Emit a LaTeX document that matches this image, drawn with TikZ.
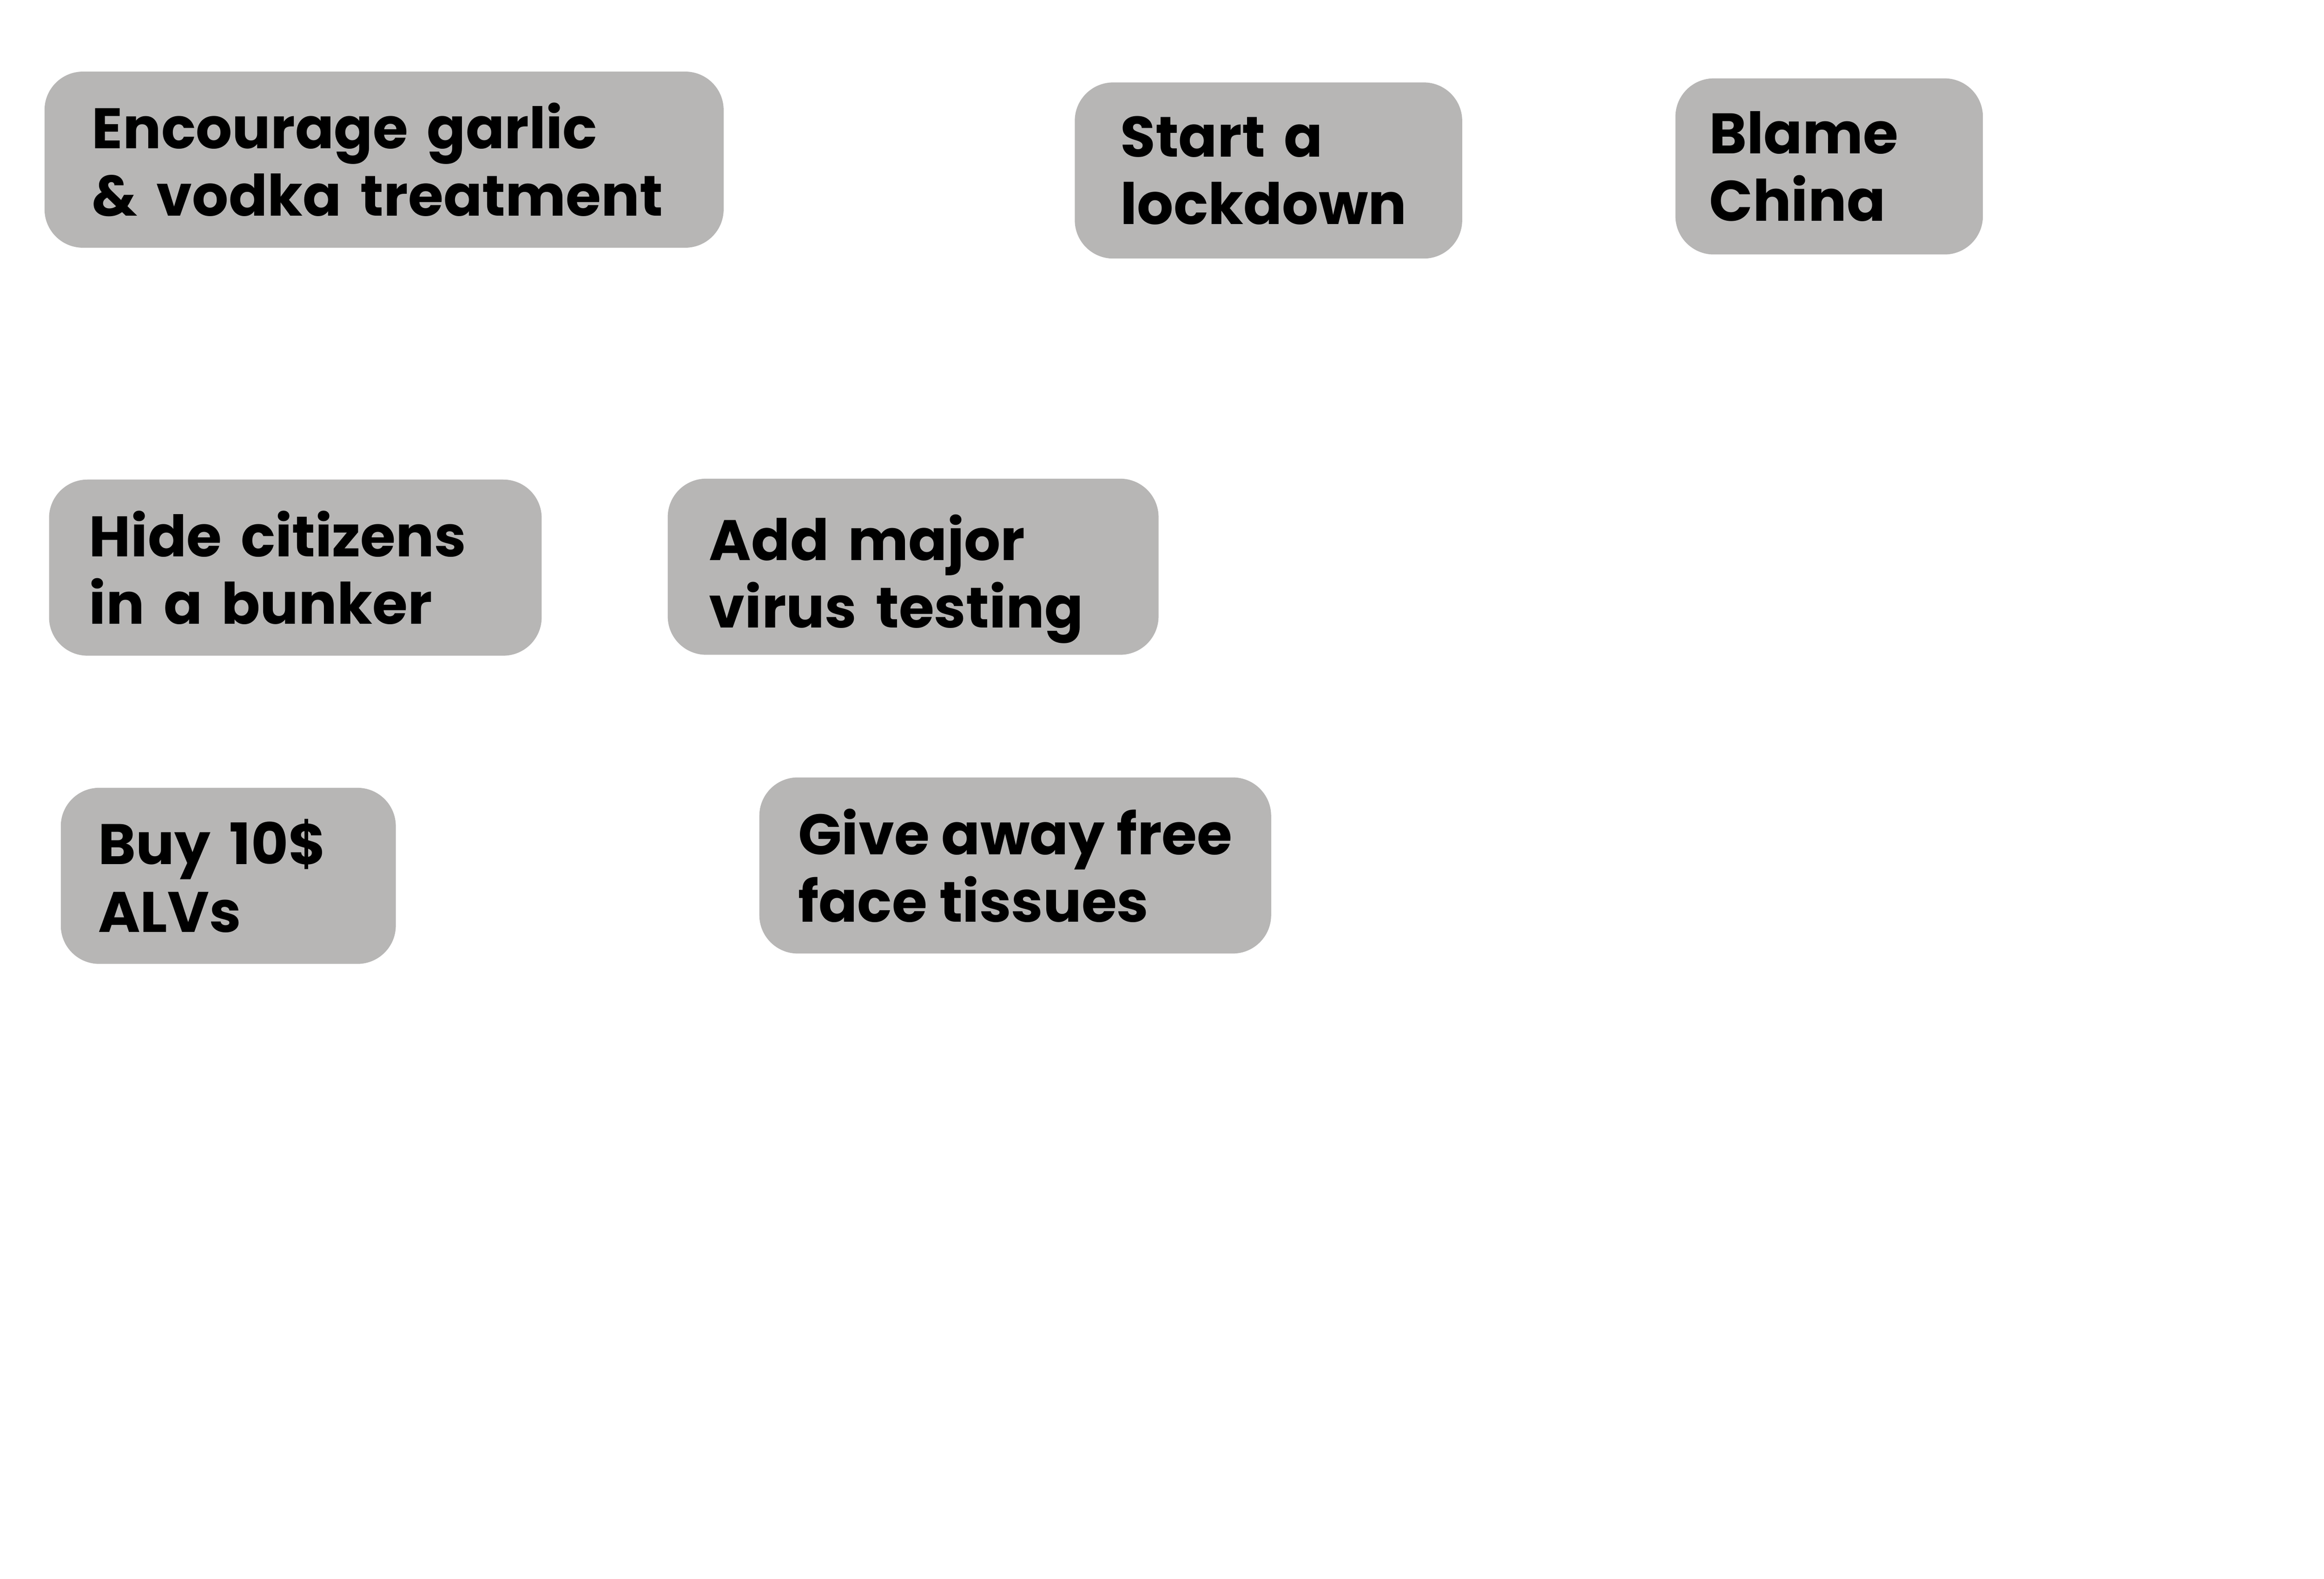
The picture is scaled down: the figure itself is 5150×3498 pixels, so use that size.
\documentclass[tikz,border=0pt]{standalone}
\usepackage{fontspec}
\setmainfont{Poppins}
\usepackage{tikz}
\definecolor{boxgray}{HTML}{B7B6B5}
\tikzstyle{idea}=[rectangle, fill=boxgray, rounded corners=0.85cm, anchor=north west, inner ysep=0pt, minimum height=3.9cm, align=left, font=\fontsize{36}{42.5}\selectfont\bfseries]

\begin{document}
\begin{tikzpicture}[x=0.01cm, y=-0.01cm]
                    \useasboundingbox (0, 0) rectangle (5150, 3498);
                    \node[idea, inner xsep=1.05cm, text width=12.94cm] (garlic) at (98, 158) {Encourage garlic\\\& vodka treatment};
                    \node[idea, inner xsep=1.01cm, text width=6.56cm] (lockdown) at (2381, 182) {Start a\\lockdown};
                    \node[idea, inner xsep=0.75cm, text width=5.31cm] (blame) at (3712, 173) {Blame\\China};
                    \node[idea, inner xsep=0.89cm, text width=9.13cm] (bunker) at (108, 1062) {Hide citizens\\in a bunker};
                    \node[idea, inner xsep=0.92cm, text width=9.03cm, text depth=1.3cm] (testing) at (1479, 1060) {Add major\\virus testing};
                    \node[idea, inner xsep=0.83cm, text width=5.76cm] (alvs) at (134, 1745) {Buy 10\$\\ALVs};
                    \node[idea, inner xsep=0.86cm] (tissues) at (1682, 1722) {Give away free\\face tissues};
                \end{tikzpicture}
\end{document}
